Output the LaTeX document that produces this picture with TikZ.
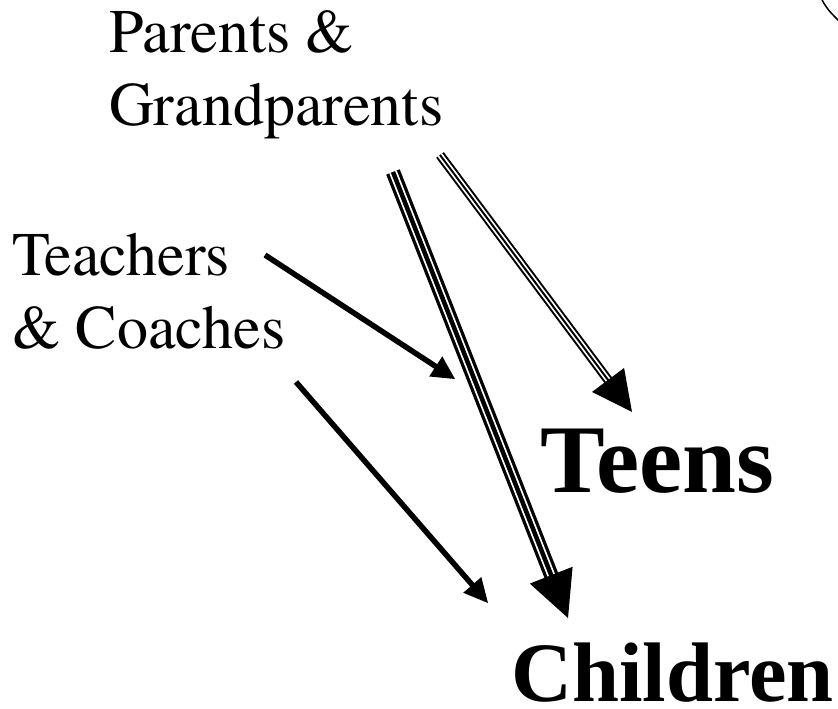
\documentclass[tikz,border=0pt]{standalone}
\usepackage{fontspec}
\setmainfont{LiberationSerif}[Extension=.ttf, UprightFont=*-Regular, BoldFont=*-Bold, ItalicFont=*-Italic, BoldItalicFont=*-BoldItalic]
\newfontfamily\regserif{TeX Gyre Termes}
\usetikzlibrary{calc}
\tikzset{
  lbl/.style={inner sep=0pt, anchor=base west, align=left, font=\regserif\fontsize{62}{73}\selectfont},
  bigbold/.style={inner sep=0pt, anchor=base west, font=\bfseries\fontsize{#1}{#1}\selectfont},
  single/.style={line width=5.5pt, line cap=butt},
}
% triple-line arrow: #1 start, #2 tip, #3 outer width, #4 gap width, #5 inner width, #6 head length, #7 head half width
\newcommand{\tripleArrow}[7]{%
  \draw[line width=#3, shorten >=#6-2pt] (#1) -- (#2);
  \draw[white, line width=#4, shorten >=#6-2pt] (#1) -- (#2);
  \draw[line width=#5, shorten >=#6-2pt] (#1) -- (#2);
  \fill ($(#2)!#6!(#1)$) coordinate (hb) ($(hb)!#7!90:(#2)$) -- (#2) -- ($(hb)!#7!-90:(#2)$) -- cycle;
}
\newcommand{\singleArrow}[4]{%
  \draw[single, shorten >=#3-2pt] (#1) -- (#2);
  \fill ($(#2)!#3!(#1)$) coordinate (hb) ($(hb)!#4!90:(#2)$) -- (#2) -- ($(hb)!#4!-90:(#2)$) -- cycle;
}
\begin{document}
\begin{tikzpicture}[x=1pt, y=-1pt]
\useasboundingbox (0,0) rectangle (838,709);
% labels (base anchor = baseline of last line)
\node[lbl] (parents) at (109,125) {Parents \&\\Grandparents};
\node[lbl] (teachers) at (12,348) {Teachers\\\& Coaches};
\node[bigbold=97] (teens) at (540,492) {Teens};
\node[bigbold=84.5] (children) at (511,701) {Children};
% arrow end points
\coordinate (pc1) at (393,172);
\coordinate (pc2) at (568,618);
\coordinate (pt1) at (440,155);
\coordinate (pt2) at (632,412);
\coordinate (tt1) at (265,255);
\coordinate (tt2) at (455,379);
\coordinate (tc1) at (296,382);
\coordinate (tc2) at (488,603);
% arrows
\tripleArrow{pc1}{pc2}{14.5pt}{8pt}{4.5pt}{46pt}{23pt}
\tripleArrow{pt1}{pt2}{9.5pt}{5.5pt}{2pt}{40pt}{20pt}
\singleArrow{tt1}{tt2}{23pt}{12pt}
\singleArrow{tc1}{tc2}{24pt}{12pt}
% partial curve at top right
\draw[line width=1.5pt] (822,0) .. controls (828,10) .. (840,22);
\end{tikzpicture}
\end{document}
